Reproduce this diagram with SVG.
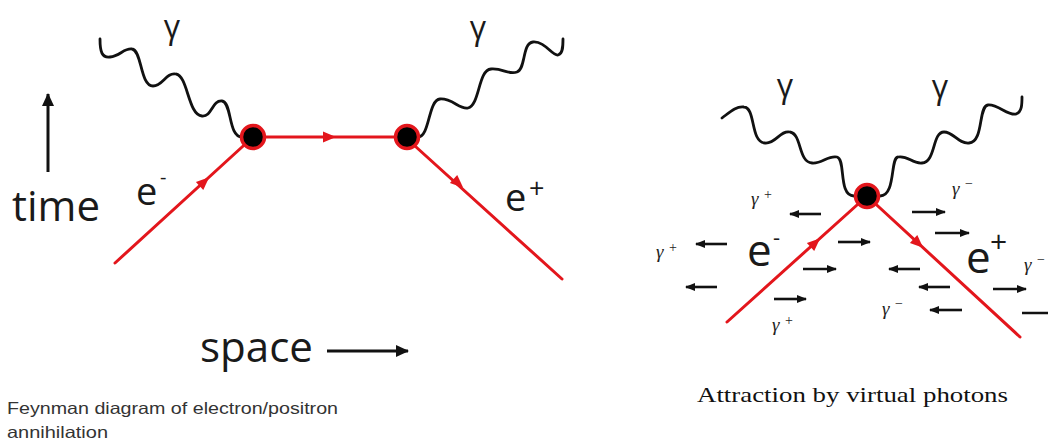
<svg xmlns="http://www.w3.org/2000/svg" width="1048" height="444" viewBox="0 0 1048 444">
<style>
.red{stroke:#e3161c;stroke-width:3;fill:none;stroke-linecap:round}
.wave{stroke:#111;stroke-width:2.8;fill:none;stroke-linecap:round;stroke-linejoin:round}
.dot{fill:#000;stroke:#e3161c;stroke-width:3.5}
.ax{stroke:#111;stroke-width:3;fill:none}
.sm{stroke:#111;stroke-width:2.6;fill:none;marker-end:url(#sh)}
.lbl{font-family:"Open Sans","DejaVu Sans",sans-serif;fill:#1a1a1a}
.vg{font-family:"Liberation Serif",serif;font-style:italic;font-size:19px;fill:#222}
.vs{font-family:"Liberation Serif",serif;font-size:14px;fill:#222}
.cap{font-family:"Liberation Sans",Arial,sans-serif;font-size:16.5px;fill:#333}
.cap2{font-family:"Liberation Serif",serif;font-size:22px;fill:#111}
</style>
<defs>
<marker id="sh" markerUnits="userSpaceOnUse" markerWidth="12" markerHeight="10" refX="9" refY="4" orient="auto"><path d="M0,0 L10,4 L0,8 Z" fill="#111"/></marker>
<marker id="bh" markerUnits="userSpaceOnUse" markerWidth="16" markerHeight="14" refX="12" refY="6" orient="auto"><path d="M0,0 L13,6 L0,12 Z" fill="#111"/></marker>
<path id="rh" d="M7,0 L-6,-5.5 L-6,5.5 Z" fill="#e3161c"/>
</defs>

<g id="connectors">
  <path class="red" d="M115,263 L253,137"/>
  <path class="red" d="M253,137 L405,137"/>
  <path class="red" d="M405,137 L562,279"/>
  <use href="#rh" transform="translate(204,182) rotate(-42.4)"/>
  <use href="#rh" transform="translate(329,137)"/>
  <use href="#rh" transform="translate(458,183) rotate(42.1)"/>
  <path class="wave" d="M100,39 C100,52 102,58 110,57 C120,56 124,48 132,49 C142,50 140,86 153,86 C163,86 166,72 176,74 C188,76 188,115 202,116 C212,117 212,100 222,101 C232,102 228,137 242,137"/>
  <path class="wave" d="M418,137 C430,137 428,100 440,99 C452,98 460,110 468,108 C480,105 478,70 491,69 C503,68 508,75 517,72 C526,69 522,43 533,42 C545,41 552,56 558,55 C563,54 563,46 563,39"/>
  <path class="red" d="M727,322 L867,196"/>
  <path class="red" d="M867,196 L1020,337"/>
  <use href="#rh" transform="translate(815,243) rotate(-41.8)"/>
  <use href="#rh" transform="translate(918,243) rotate(42.5)"/>
  <path class="wave" d="M722,118 C730,112 736,106 744,107 C756,108 750,142 765,143 C776,144 780,130 790,132 C802,134 798,162 812,163 C822,164 828,155 837,157 C846,159 838,196 854,196"/>
  <path class="wave" d="M880,196 C896,196 890,158 898,157 C908,155 912,164 922,163 C936,162 932,132 944,132 C954,132 958,144 969,143 C984,142 978,106 988,105 C998,104 1008,116 1016,114 C1022,112 1022,104 1022,97"/>
  <path class="ax" d="M48,172 L48,94" marker-end="url(#bh)"/>
  <path class="ax" d="M327,351 L408,351" marker-end="url(#bh)"/>
  <path class="sm" d="M821,214 L790,214"/>
  <path class="sm" d="M727,244 L696,244"/>
  <path class="sm" d="M717,287 L686,287"/>
  <path class="sm" d="M838,242 L870,242"/>
  <path class="sm" d="M803,269 L836,269"/>
  <path class="sm" d="M774,299 L806,299"/>
  <path class="sm" d="M912,212 L945,212"/>
  <path class="sm" d="M935,233 L969,233"/>
  <path class="sm" d="M920,269 L889,269"/>
  <path class="sm" d="M950,287 L919,287"/>
  <path class="sm" d="M962,310 L930,310"/>
  <path class="sm" d="M993,289 L1026,289"/>
  <path class="sm" d="M1022,313 L1058,313"/>
</g>

<g id="vertex-1"><circle class="dot" cx="253" cy="137" r="11.5"/></g>
<g id="vertex-2"><circle class="dot" cx="407" cy="137" r="11.5"/></g>
<g id="vertex-3"><circle class="dot" cx="867" cy="196" r="11.5"/></g>

<g id="labels-left">
  <text class="lbl" x="172" y="38" font-size="32" text-anchor="middle">γ</text>
  <text class="lbl" x="478" y="39" font-size="32" text-anchor="middle">γ</text>
  <text class="lbl" x="12" y="221" font-size="42" textLength="88" lengthAdjust="spacingAndGlyphs">time</text>
  <text class="lbl" x="136" y="205" font-size="38">e</text>
  <text class="lbl" x="160" y="184" font-size="20">-</text>
  <text class="lbl" x="505" y="211" font-size="38">e</text>
  <text class="lbl" x="529" y="198" font-size="27">+</text>
  <text class="lbl" x="200" y="362" font-size="42" textLength="113" lengthAdjust="spacingAndGlyphs">space</text>
</g>

<g id="labels-right">
  <text class="lbl" x="785" y="97" font-size="32" text-anchor="middle">γ</text>
  <text class="lbl" x="940" y="98" font-size="32" text-anchor="middle">γ</text>
  <text class="lbl" x="747" y="266" font-size="44">e</text>
  <text class="lbl" x="773" y="245" font-size="22">-</text>
  <text class="lbl" x="966" y="273" font-size="44">e</text>
  <text class="lbl" x="990" y="252" font-size="30">+</text>
  <text class="vg" x="751" y="205">γ</text><text class="vs" x="764" y="199">+</text>
  <text class="vg" x="656" y="258">γ</text><text class="vs" x="669" y="252">+</text>
  <text class="vg" x="772" y="331">γ</text><text class="vs" x="785" y="325">+</text>
  <text class="vg" x="952" y="195">γ</text><text class="vs" x="965" y="188">−</text>
  <text class="vg" x="882" y="315">γ</text><text class="vs" x="895" y="308">−</text>
  <text class="vg" x="1024" y="271">γ</text><text class="vs" x="1037" y="264">−</text>
</g>

<g id="captions">
  <text class="cap" x="7" y="414" textLength="331" lengthAdjust="spacingAndGlyphs">Feynman diagram of electron/positron</text>
  <text class="cap" x="7" y="438" textLength="101" lengthAdjust="spacingAndGlyphs">annihilation</text>
  <text class="cap2" x="697" y="402" textLength="311" lengthAdjust="spacingAndGlyphs">Attraction by virtual photons</text>
</g>
</svg>
